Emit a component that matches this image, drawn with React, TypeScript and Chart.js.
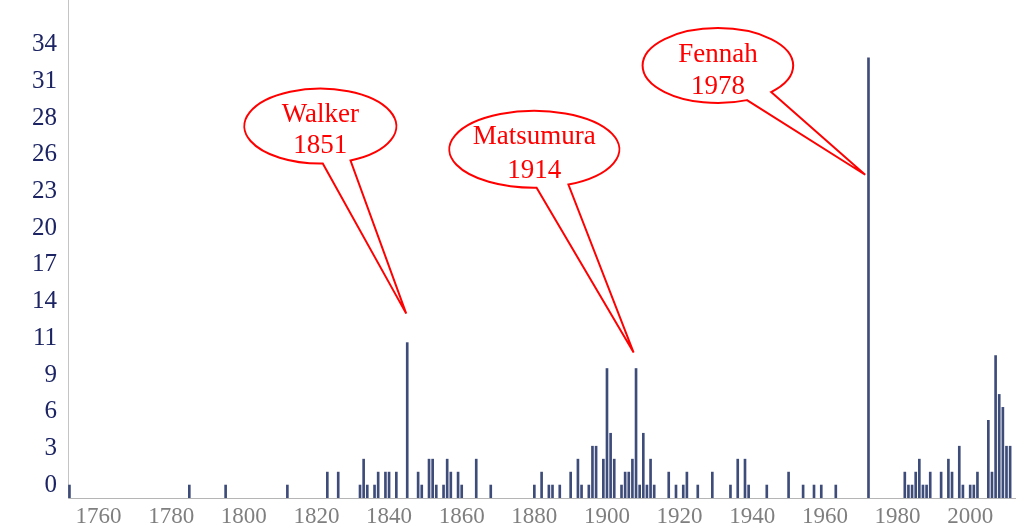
import React, { useEffect, useRef } from "react";
import { Chart, registerables } from "chart.js";

Chart.register(...registerables);

// Year of each bar (on the axis as labelled) and the bar value
const years = [
  1752, 1785, 1795, 1812, 1823, 1826, 1832, 1833, 1834, 1836, 1837, 1839, 1840, 1842,
  1845, 1848, 1849, 1851, 1852, 1853, 1855, 1856, 1857, 1859, 1860, 1864, 1868,
  1880, 1882, 1884, 1885, 1887, 1890, 1892, 1893, 1895, 1896, 1897, 1899, 1900,
  1901, 1902, 1904, 1905, 1906, 1907, 1908, 1909, 1910, 1911, 1912, 1913, 1917,
  1919, 1921, 1922, 1925, 1929, 1934, 1936, 1938, 1939, 1944, 1950, 1954, 1957,
  1959, 1963, 1972, 1982, 1983, 1984, 1985, 1986, 1987, 1988, 1989, 1992, 1994,
  1995, 1997, 1998, 2000, 2001, 2002, 2005, 2006, 2007, 2008, 2009, 2010, 2011,
];
const counts = [
  0, 0, 0, 0, 1, 1, 0, 2, 0, 0, 1, 1, 1, 1,
  11, 1, 0, 2, 2, 0, 0, 2, 1, 1, 0, 2, 0,
  0, 1, 0, 0, 0, 1, 2, 0, 0, 3, 3, 2, 9,
  4, 2, 0, 1, 1, 2, 9, 0, 4, 0, 2, 0, 1,
  0, 0, 1, 0, 1, 0, 2, 2, 0, 0, 1, 0, 0,
  0, 0, 33, 1, 0, 0, 1, 2, 0, 0, 1, 1, 2,
  1, 3, 0, 0, 0, 1, 5, 1, 10, 7, 6, 3, 3,
];

const xTickLabels = ["1760", "1780", "1800", "1820", "1840", "1860", "1880", "1900", "1920", "1940", "1960", "1980", "2000"];
const yTickLabels = ["0", "3", "6", "9", "11", "14", "17", "20", "23", "26", "28", "31", "34"];
const yTickTop = 34;

// Callouts: author, year of description, and the bar they point at
const calloutNames = ["Walker", "Matsumura", "Fennah"];
const calloutYears = ["1851", "1914", "1978"];
const calloutBars = [1845, 1908, 1972];

// Drawing geometry for the callouts (pixels)
const calloutShapes = [
  { tipDx: -1, tipDy: -29, cx: -85.9, cy: -187.5, rx: 76, ry: 37.5, b1: [2.5, 38.2], b2: [31.5, 35.9], t1: -10.8, t2: 20.2 },
  { tipDx: -2.4, tipDy: -16, cx: -99.3, cy: -203.2, rx: 85, ry: 38.5, b1: [2.3, 39.2], b2: [34.3, 35.5], t1: -12.5, t2: 21.5 },
  { tipDx: -3.3, tipDy: 117, cx: -147.3, cy: -109.2, rx: 75.3, ry: 37.5, b1: [29.6, 35.2], b2: [54, 26.9], t1: -10.8, t2: 20.9 },
];

const calloutPlugin = {
  id: "callouts",
  afterDatasetsDraw(chart: any) {
    const ctx = chart.ctx as CanvasRenderingContext2D;
    const xs = chart.scales.x;
    const ys = chart.scales.y;
    calloutBars.forEach((yr, i) => {
      const idx = years.indexOf(yr);
      const s = calloutShapes[i];
      const bx = xs.getPixelForValue(yr);
      const by = ys.getPixelForValue(counts[idx]);
      const tx = bx + s.tipDx;
      const ty = by + s.tipDy;
      const cx = tx + s.cx;
      const cy = ty + s.cy;
      const a1 = Math.atan2(s.b1[1] / s.ry, s.b1[0] / s.rx);
      const a2 = Math.atan2(s.b2[1] / s.ry, s.b2[0] / s.rx);
      const p1x = cx + s.rx * Math.cos(a1), p1y = cy + s.ry * Math.sin(a1);
      const p2x = cx + s.rx * Math.cos(a2), p2y = cy + s.ry * Math.sin(a2);
      ctx.save();
      ctx.beginPath();
      ctx.moveTo(p1x, p1y);
      ctx.lineTo(tx, ty);
      ctx.lineTo(p2x, p2y);
      ctx.ellipse(cx, cy, s.rx, s.ry, 0, a2, a1, true);
      ctx.closePath();
      ctx.fillStyle = "#ffffff";
      ctx.fill();
      ctx.strokeStyle = "#ff0000";
      ctx.lineWidth = 2;
      ctx.lineJoin = "miter";
      ctx.stroke();
      ctx.fillStyle = "#ff0000";
      ctx.font = '27px "Liberation Serif", "Times New Roman", serif';
      ctx.textAlign = "center";
      ctx.textBaseline = "middle";
      ctx.fillText(calloutNames[i], cx, cy + s.t1);
      ctx.fillText(calloutYears[i], cx, cy + s.t2);
      ctx.restore();
    });
  },
};

export default function App() {
  const ref = useRef<HTMLCanvasElement | null>(null);
  useEffect(() => {
    document.body.style.margin = "0";
    const canvas = ref.current;
    if (!canvas) return;
    const chart = new Chart(canvas, {
      type: "bar",
      data: {
        datasets: [
          {
            data: years.map((y, i) => ({ x: y, y: counts[i] })),
            backgroundColor: "#3e4c7a",
            borderWidth: 0,
            barThickness: 2,
            base: -1,
          } as any,
        ],
      },
      options: {
        animation: false,
        responsive: false,
        layout: { padding: { left: 0, right: 4, top: 0, bottom: 0 } },
        plugins: { legend: { display: false }, tooltip: { enabled: false } },
        scales: {
          x: {
            type: "linear",
            min: 1751.6,
            max: 2012.34,
            offset: false,
            grid: { display: false, drawTicks: false },
            border: { display: true, color: "#b5b5b5", width: 1 },
            afterBuildTicks: (s: any) => {
              s.ticks = xTickLabels.map((l) => ({ value: Number(l) }));
            },
            afterFit: (s: any) => {
              s.height = 31;
              s.paddingLeft = 0;
              s.paddingRight = 0;
            },
            ticks: {
              autoSkip: false,
              maxRotation: 0,
              padding: 5,
              color: "#7f7f7f",
              font: { family: '"Liberation Serif", "Times New Roman", serif', size: 23 },
              callback: (_v: any, i: number) => xTickLabels[i],
            },
          },
          y: {
            type: "linear",
            min: -1,
            max: 37.46,
            grid: { display: false, drawTicks: false },
            border: { display: true, color: "#c4c4c4", width: 1 },
            afterBuildTicks: (s: any) => {
              s.ticks = yTickLabels.map((_l, i) => ({ value: (i * yTickTop) / (yTickLabels.length - 1) }));
            },
            afterFit: (s: any) => {
              s.width = 68;
              s.paddingTop = 0;
              s.paddingBottom = 0;
            },
            ticks: {
              autoSkip: false,
              padding: 11,
              color: "#1c2463",
              font: { family: '"Liberation Serif", "Times New Roman", serif', size: 25 },
              callback: (_v: any, i: number) => yTickLabels[i],
            },
          },
        },
      } as any,
      plugins: [calloutPlugin],
    });
    return () => chart.destroy();
  }, []);
  return (
    <div style={{ width: 1019, height: 529 }}>
      <canvas ref={ref} width={1019} height={529} style={{ display: "block" }} />
    </div>
  );
}
